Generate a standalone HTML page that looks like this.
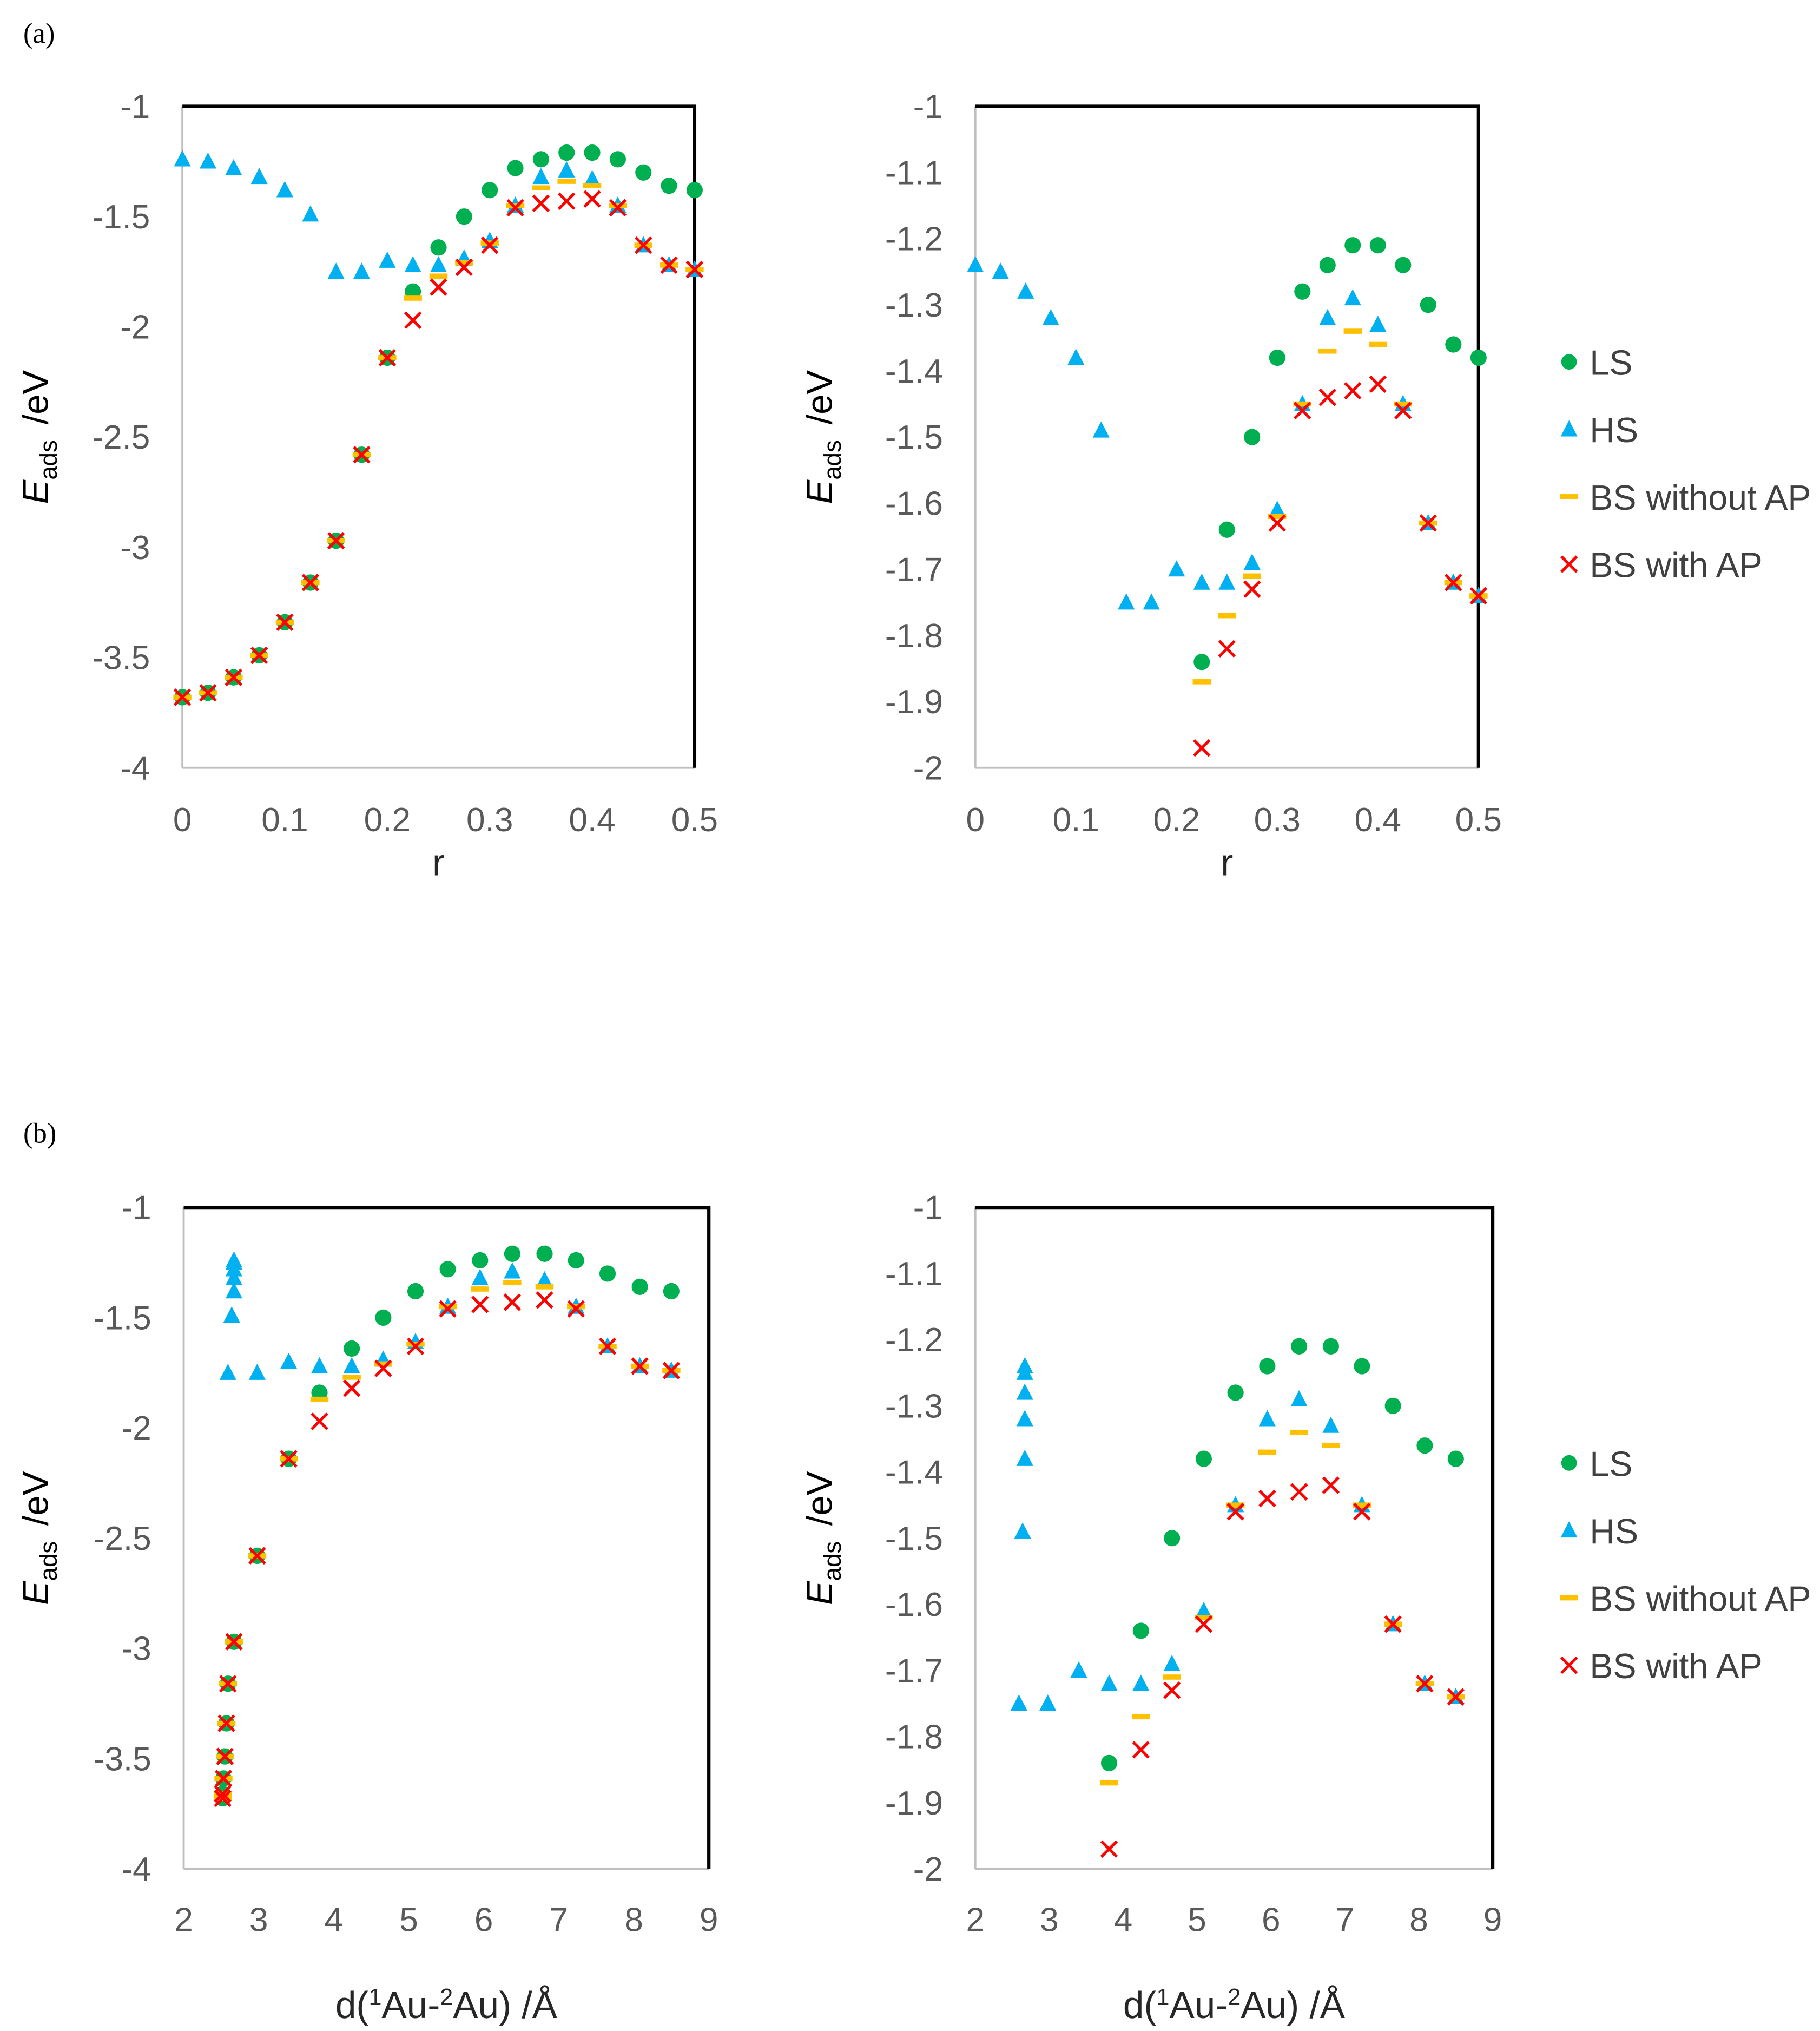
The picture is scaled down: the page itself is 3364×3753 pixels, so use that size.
<!DOCTYPE html>
<html><head><meta charset="utf-8">
<style>
html,body{margin:0;padding:0;background:#fff;}
svg{display:block;}
text{font-family:"Liberation Sans",sans-serif;}
</style></head>
<body>
<svg id="fig" xmlns="http://www.w3.org/2000/svg" width="3364" height="3753" viewBox="0 0 1407 1566" preserveAspectRatio="none">
<rect width="1407" height="1566" fill="#fff"/>
<text x="18" y="33" font-size="22" style="font-family:'Liberation Serif',serif" fill="#000">(a)</text>
<text x="18" y="881" font-size="22" style="font-family:'Liberation Serif',serif" fill="#000">(b)</text>
</svg>
<script>
const rVals = [0,0.025,0.05,0.075,0.1,0.125,0.15,0.175,0.2,0.225,0.25,0.275,0.3,0.325,0.35,0.375,0.4,0.425,0.45,0.475,0.5];
const dBS = [2.52,2.52,2.53,2.55,2.57,2.59,2.67,2.98,3.40,3.81,4.24,4.66,5.09,5.52,5.95,6.38,6.81,7.23,7.65,8.08,8.50];
const dHS = [2.67,2.67,2.67,2.67,2.67,2.64,2.59,2.98,3.40,3.81,4.24,4.66,5.09,5.52,5.95,6.38,6.81,7.23,7.65,8.08,8.50];
const lsVals = [-3.68,-3.66,-3.59,-3.49,-3.34,-3.16,-2.97,-2.58,-2.14,-1.84,-1.64,-1.50,-1.38,-1.28,-1.24,-1.21,-1.21,-1.24,-1.30,-1.36,-1.38];
const hsVals = [-1.24,-1.25,-1.28,-1.32,-1.38,-1.49,-1.75,-1.75,-1.70,-1.72,-1.72,-1.69,-1.61,-1.45,-1.32,-1.29,-1.33,-1.45,-1.63,-1.72,-1.74];
const bsNoApVals = [-3.68,-3.66,-3.59,-3.49,-3.34,-3.16,-2.97,-2.58,-2.14,-1.87,-1.77,-1.71,-1.62,-1.45,-1.37,-1.34,-1.36,-1.45,-1.63,-1.72,-1.74];
const bsApVals = [-3.68,-3.66,-3.59,-3.49,-3.34,-3.16,-2.97,-2.58,-2.14,-1.97,-1.82,-1.73,-1.63,-1.46,-1.44,-1.43,-1.42,-1.46,-1.63,-1.72,-1.74];
const xTicksR = ["0","0.1","0.2","0.3","0.4","0.5"];
const xTicksD = ["2","3","4","5","6","7","8","9"];
const yTicksWide = ["-1","-1.5","-2","-2.5","-3","-3.5","-4"];
const yTicksNarrow = ["-1","-1.1","-1.2","-1.3","-1.4","-1.5","-1.6","-1.7","-1.8","-1.9","-2"];
const legendLabels = ["LS","HS","BS without AP","BS with AP"];

const NS = "http://www.w3.org/2000/svg";
const svg = document.getElementById('fig');
function mk(tag, attrs, parent){
  const e = document.createElementNS(NS, tag);
  for (const k in attrs) e.setAttribute(k, attrs[k]);
  (parent||svg).appendChild(e);
  return e;
}

function panel(cfg){
  const g = mk('g', {});
  
  
  const {L,R,T,B,xmin,xmax,ymin,ymax} = cfg;
  const sx = v => L + (v - xmin) / (xmax - xmin) * (R - L);
  const sy = v => T + (ymax - v) / (ymax - ymin) * (B - T);
  const la = mk('line', {x1:L,y1:T,x2:L,y2:B,stroke:'#bfbfbf','stroke-width':1.6}, g);
  
  
  const ba = mk('line', {x1:L,y1:B,x2:R,y2:B,stroke:'#bfbfbf','stroke-width':1.6}, g);
  
  
  const tb = mk('polyline', {points:`${L},${T} ${R},${T} ${R},${B}`,fill:'none',stroke:'#000','stroke-width':2.6}, g);
  
  
  cfg.yTicks.forEach(t => {
    const e = mk('text', {x:L-25,y:sy(parseFloat(t))+9,'font-size':26,fill:'#595959','text-anchor':'end'}, g);
    
    
    e.textContent = t;
  });
  cfg.xTicks.forEach(t => {
    const e = mk('text', {x:sx(parseFloat(t)),y:cfg.xTickY,'font-size':26,fill:'#595959','text-anchor':'middle'}, g);
    
    
    e.textContent = t;
  });
  const yt = mk('text', {transform:`translate(${cfg.yTitleX},${(T+B)/2}) rotate(-90)`,'font-size':28,fill:'#000','text-anchor':'middle','xml:space':'preserve'}, g);
  
  
  yt.innerHTML = '<tspan font-style="italic">E</tspan><tspan font-size="19" dy="7">ads</tspan><tspan dy="-7" dx="12">/eV</tspan>';
  const xt = mk('text', {x:(L+R)/2,y:cfg.xTitleY,'font-size':29,fill:'#262626','text-anchor':'middle'}, g);
  
  
  if (cfg.xTitleD) xt.innerHTML = 'd(<tspan font-size="18" dy="-10">1</tspan><tspan dy="10">Au-</tspan><tspan font-size="18" dy="-10">2</tspan><tspan dy="10">Au) /Å</tspan>';
  else xt.textContent = 'r';
  const inR = (y) => y >= ymin - 1e-9 && y <= ymax + 1e-9;
  lsVals.forEach((v,i) => {
    if (!inR(v)) return;
    const c = mk('circle', {cx:sx(cfg.xLow[i]),cy:sy(v),r:6.3,fill:'#00b050'}, g);
    
    
  });
  hsVals.forEach((v,i) => {
    if (!inR(v)) return;
    const x = sx(cfg.xHS[i]), y = sy(v);
    const p = mk('polygon', {points:`${x},${y-7} ${x-6.5},${y+5.5} ${x+6.5},${y+5.5}`,fill:'#00b0f0'}, g);
    
    
  });
  bsNoApVals.forEach((v,i) => {
    if (!inR(v)) return;
    const x = sx(cfg.xLow[i]), y = sy(v);
    const r = mk('rect', {x:x-7,y:y-2,width:14,height:4,fill:'#ffc000'}, g);
    
    
  });
  bsApVals.forEach((v,i) => {
    if (!inR(v)) return;
    const x = sx(cfg.xLow[i]), y = sy(v);
    const p = mk('path', {d:`M${x-6},${y-6}L${x+6},${y+6}M${x+6},${y-6}L${x-6},${y+6}`,stroke:'#ff0000','stroke-width':2.2,fill:'none'}, g);
    
    
  });
  if (cfg.legendY) {
    const lg = mk('g', {}, g);
    
    
    legendLabels.forEach((lab, k) => {
      const y = cfg.legendY + k * 52, x = 1213;
      let m;
      if (k === 0) m = mk('circle', {cx:x,cy:y,r:6,fill:'#00b050'}, lg);
      else if (k === 1) m = mk('polygon', {points:`${x},${y-7} ${x-6.5},${y+5.5} ${x+6.5},${y+5.5}`,fill:'#00b0f0'}, lg);
      else if (k === 2) m = mk('rect', {x:x-7,y:y-2,width:14,height:4,fill:'#ffc000'}, lg);
      else m = mk('path', {d:`M${x-6},${y-6}L${x+6},${y+6}M${x+6},${y-6}L${x-6},${y+6}`,stroke:'#ff0000','stroke-width':2.2}, lg);
      
      
      const t = mk('text', {x:1229,y:y+10,'font-size':27,fill:'#404040'}, lg);
      
      
      t.textContent = lab;
    });
  }
}

panel({name:'chart-a-left',L:141,R:537,T:82,B:592,xmin:0,xmax:0.5,ymin:-4,ymax:-1,yTicks:yTicksWide,xTicks:xTicksR,xTickY:641,yTitleX:37,xTitleY:675,xLow:rVals,xHS:rVals});
panel({name:'chart-a-right',L:754,R:1143,T:82,B:592,xmin:0,xmax:0.5,ymin:-2,ymax:-1,yTicks:yTicksNarrow,xTicks:xTicksR,xTickY:641,yTitleX:643,xTitleY:675,xLow:rVals,xHS:rVals,legendY:279});
panel({name:'chart-b-left',L:142,R:548,T:931,B:1441,xmin:2,xmax:9,ymin:-4,ymax:-1,yTicks:yTicksWide,xTicks:xTicksD,xTickY:1489,yTitleX:37,xTitleY:1556,xLow:dBS,xHS:dHS,xTitleD:true});
panel({name:'chart-b-right',L:754,R:1154,T:931,B:1441,xmin:2,xmax:9,ymin:-2,ymax:-1,yTicks:yTicksNarrow,xTicks:xTicksD,xTickY:1489,yTitleX:643,xTitleY:1556,xLow:dBS,xHS:dHS,xTitleD:true,legendY:1128});
</script>
</body></html>
